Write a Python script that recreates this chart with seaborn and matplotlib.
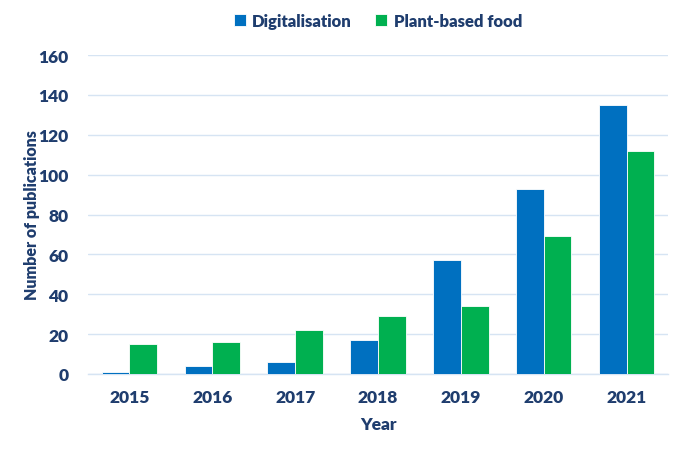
import matplotlib
matplotlib.use("Agg")
import matplotlib.pyplot as plt
import seaborn as sns
import pandas as pd

years = ["2015", "2016", "2017", "2018", "2019", "2020", "2021"]
digitalisation = [1, 4, 6, 17, 57, 93, 135]
plant_based = [15, 16, 22, 29, 34, 69, 112]
series_names = ["Digitalisation", "Plant-based food"]
palette = ["#0070C0", "#00B050"]
text_color = "#1F3D6E"
grid_color = "#D6E4F3"

sns.set_theme(style="white")
plt.rcParams["font.family"] = ["Lato", "DejaVu Sans"]
plt.rcParams["font.weight"] = "bold"

df = pd.DataFrame({
    "Year": years * 2,
    "Count": digitalisation + plant_based,
    "Series": [series_names[0]] * len(years) + [series_names[1]] * len(years),
})

fig = plt.figure(figsize=(6.84, 4.52), dpi=100)
ax = fig.add_axes([0.1287, 0.1704, 0.8479, 0.7056])
sns.barplot(data=df, x="Year", y="Count", hue="Series", palette=palette, saturation=1,
            width=0.67, edgecolor="white", linewidth=0.6, ax=ax, zorder=3)

ax.set_ylim(0, 160)
ax.set_yticks(range(0, 161, 20))
ax.set_xlim(-0.5, 6.5)
ax.yaxis.grid(True, color=grid_color, linewidth=1, zorder=0)
ax.set_axisbelow(True)
for s in ["top", "right", "left"]:
    ax.spines[s].set_visible(False)
ax.spines["bottom"].set_color(grid_color)
ax.spines["bottom"].set_linewidth(1)
ax.tick_params(axis="y", length=0, labelsize=12.5, colors=text_color, pad=14)
ax.tick_params(axis="x", length=0, labelsize=12.5, colors=text_color, pad=11)
for lab in ax.get_xticklabels() + ax.get_yticklabels():
    lab.set_fontweight("heavy")

ax.set_xlabel("Year", fontsize=12.5, fontweight="heavy", color=text_color, labelpad=8)
ax.set_ylabel("Number of publications", fontsize=11.5, fontweight="heavy", color=text_color, labelpad=-1)

handles, labels = ax.get_legend_handles_labels()
ax.legend(handles, labels, loc="lower center", bbox_to_anchor=(0.5, 1.035), ncol=2,
          frameon=False, handlelength=0.7, handleheight=0.7,
          handletextpad=0.4, columnspacing=1.4, labelcolor=text_color,
          prop={"weight": "heavy", "size": 12})

fig.savefig("out.png", dpi=100)
